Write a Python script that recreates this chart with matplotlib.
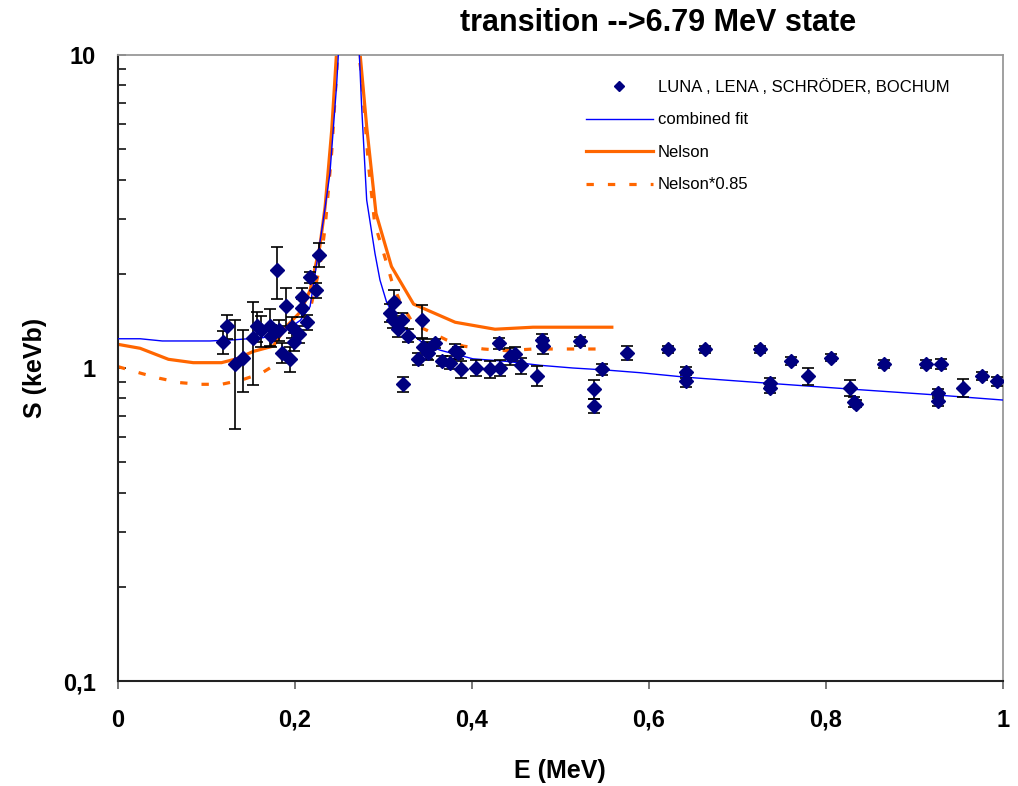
import matplotlib
matplotlib.use("Agg")
import matplotlib.pyplot as plt
from matplotlib.ticker import FixedLocator, FixedFormatter, LogLocator, NullFormatter
from matplotlib.lines import Line2D

plt.rcParams['font.family'] = ['Liberation Sans', 'DejaVu Sans']

# ---- data: measured S-factor points ----
data_E = [0.119, 0.123, 0.132, 0.1416, 0.153, 0.157, 0.162, 0.172, 0.1725, 0.180,
          0.182, 0.1853, 0.1895, 0.1947, 0.1966, 0.1985, 0.2041, 0.208, 0.208, 0.213,
          0.2173, 0.2237, 0.2275,
          0.307, 0.311, 0.312, 0.3167, 0.3205, 0.3224, 0.328, 0.339, 0.343, 0.345,
          0.3495, 0.3506, 0.358, 0.3657, 0.375, 0.381, 0.3846, 0.388, 0.405, 0.420,
          0.431, 0.432, 0.443, 0.449, 0.455, 0.473, 0.479, 0.480, 0.522, 0.5465,
          0.538, 0.538, 0.575,
          0.621, 0.642, 0.642, 0.663, 0.725, 0.737, 0.737, 0.761, 0.780, 0.806,
          0.827, 0.832, 0.834, 0.866, 0.913, 0.930, 0.927, 0.927, 0.955, 0.976, 0.993]
data_S = [1.21, 1.36, 1.03, 1.08, 1.25, 1.36, 1.32, 1.36, 1.27, 2.05,
          1.32, 1.12, 1.58, 1.07, 1.35, 1.21, 1.28, 1.56, 1.68, 1.40,
          1.95, 1.77, 2.30,
          1.50, 1.42, 1.62, 1.33, 1.42, 0.887, 1.27, 1.07, 1.42, 1.17,
          1.14, 1.12, 1.20, 1.055, 1.04, 1.13, 1.12, 0.99, 1.00, 0.99,
          1.20, 1.00, 1.09, 1.11, 1.02, 0.943, 1.23, 1.18, 1.22, 0.99,
          0.855, 0.757, 1.12,
          1.15, 0.969, 0.909, 1.15, 1.15, 0.898, 0.861, 1.055, 0.943, 1.08,
          0.865, 0.78, 0.77, 1.03, 1.03, 1.03, 0.83, 0.785, 0.865, 0.943, 0.909]
data_err = [0.10, 0.12, 0.39, 0.24, 0.37, 0.15, 0.15, 0.18, 0.10, 0.39,
            0.10, 0.08, 0.22, 0.10, 0.10, 0.08, 0.08, 0.10, 0.12, 0.08,
            0.08, 0.10, 0.20,
            0.10, 0.08, 0.15, 0.07, 0.08, 0.05, 0.06, 0.05, 0.17, 0.07,
            0.07, 0.06, 0.04, 0.04, 0.05, 0.06, 0.05, 0.06, 0.06, 0.06,
            0.05, 0.06, 0.07, 0.06, 0.06, 0.07, 0.05, 0.07, 0.04, 0.04,
            0.06, 0.04, 0.06,
            0.03, 0.04, 0.04, 0.03, 0.03, 0.03, 0.03, 0.03, 0.06, 0.03,
            0.05, 0.03, 0.02, 0.03, 0.03, 0.04, 0.03, 0.03, 0.06, 0.03, 0.03]

# ---- combined fit ----
fit_E = [0.0, 0.025, 0.05, 0.08, 0.104, 0.13, 0.164, 0.18, 0.19, 0.206, 0.217,
         0.225, 0.232, 0.2395, 0.247, 0.255, 0.262, 0.268, 0.2753, 0.281, 0.2904,
         0.296, 0.3036, 0.315, 0.326, 0.345, 0.364, 0.401, 0.439, 0.477, 0.514,
         0.552, 0.59, 0.6426, 0.737, 0.831, 0.925, 1.0]
fit_S = [1.24, 1.24, 1.22, 1.22, 1.22, 1.23, 1.25, 1.29, 1.32, 1.42, 1.57,
         2.2, 2.97, 4.2, 8.0, 20.0, 60.0, 20.0, 6.84, 3.44, 2.32,
         1.91, 1.62, 1.42, 1.32, 1.20, 1.14, 1.07, 1.05, 1.02, 1.00,
         0.985, 0.966, 0.934, 0.893, 0.855, 0.82, 0.79]

# ---- Nelson ----
nel_E = [0.0, 0.025, 0.057, 0.085, 0.117, 0.134, 0.153, 0.1755, 0.19, 0.206, 0.217,
         0.228, 0.234, 0.2415, 0.25, 0.26, 0.27, 0.281, 0.2915, 0.309, 0.334,
         0.381, 0.426, 0.469, 0.558]
nel_S = [1.19, 1.156, 1.066, 1.04, 1.04, 1.07, 1.13, 1.175, 1.355, 1.51, 1.77,
         2.44, 3.27, 5.76, 14.0, 40.0, 13.0, 5.9, 3.12, 2.11, 1.60,
         1.40, 1.33, 1.35, 1.35]

# ---- Nelson*0.85 ----
nel85_E = [0.0, 0.027, 0.047, 0.07, 0.093, 0.117, 0.14, 0.162, 0.183, 0.196, 0.217,
           0.228, 0.234, 0.2415, 0.25, 0.26, 0.27, 0.275, 0.2828, 0.290, 0.3036,
           0.309, 0.3186, 0.334, 0.349, 0.371, 0.39, 0.413, 0.439, 0.469, 0.552]
nel85_S = [1.01, 0.96, 0.927, 0.898, 0.887, 0.887, 0.916, 0.962, 1.047, 1.20, 1.53,
           2.1, 2.8, 4.9, 12.0, 34.0, 11.0, 8.74, 4.51, 2.9, 2.16,
           1.91, 1.63, 1.38, 1.32, 1.23, 1.175, 1.15, 1.136, 1.15, 1.15]

x_ticks = [0, 0.2, 0.4, 0.6, 0.8, 1.0]
x_tick_labels = ['0', '0,2', '0,4', '0,6', '0,8', '1']
y_ticks = [0.1, 1, 10]
y_tick_labels = ['0,1', '1', '10']

fig = plt.figure(figsize=(10.18, 7.86), dpi=100)
ax = fig.add_axes([118/1018, 1 - 681/786, (1003-118)/1018, (681-55)/786])

ax.plot(fit_E, fit_S, color='#0000FF', lw=1.0, zorder=3)
ax.plot(nel_E, nel_S, color='#FF6600', lw=2.3, zorder=2)
ax.plot(nel85_E, nel85_S, color='#FF6600', lw=2.3, zorder=2, dashes=(2.3, 4.4))
ax.errorbar(data_E, data_S, yerr=data_err, fmt='D', color='#000080', ms=7,
            mec='#000080', ecolor='black', elinewidth=1.2, capsize=4, capthick=1.2,
            zorder=4)

ax.set_yscale('log')
ax.set_xlim(0, 1)
ax.set_ylim(0.1, 10)

ax.yaxis.set_major_locator(FixedLocator(y_ticks))
ax.yaxis.set_major_formatter(FixedFormatter(y_tick_labels))
ax.yaxis.set_minor_locator(LogLocator(base=10, subs=range(2, 10)))
ax.yaxis.set_minor_formatter(NullFormatter())
ax.xaxis.set_major_locator(FixedLocator(x_ticks))
ax.xaxis.set_major_formatter(FixedFormatter(x_tick_labels))

ax.tick_params(axis='y', which='both', direction='in', length=6, width=1.1,
               color='black', pad=16)
ax.tick_params(axis='x', which='major', direction='out', length=6, width=1.1,
               color='#555555', pad=14)
for lbl in ax.get_xticklabels() + ax.get_yticklabels():
    lbl.set_fontsize(17)
    lbl.set_fontweight('bold')

for s in ['top', 'right']:
    ax.spines[s].set_color('#999999')
    ax.spines[s].set_linewidth(1.3)
for s in ['left', 'bottom']:
    ax.spines[s].set_color('#222222')
    ax.spines[s].set_linewidth(1.5)

fig.text(560/1018, 1 - 771/786, 'E (MeV)', ha='center', va='center',
         fontsize=18, fontweight='bold')
fig.text(35/1018, 1 - 368/786, 'S (keVb)', ha='center', va='center',
         rotation=90, fontsize=18, fontweight='bold')
fig.text(658/1018, 1 - 23/786, 'transition -->6.79 MeV state', ha='center',
         va='center', fontsize=22, fontweight='bold')

handles = [Line2D([], [], marker='D', ls='none', color='#000080', ms=5.5),
           Line2D([], [], color='#0000FF', lw=1.0),
           Line2D([], [], color='#FF6600', lw=2.3),
           Line2D([], [], color='#FF6600', lw=2.3, dashes=(2.3, 4.4))]
labels = ['LUNA , LENA , SCHRÖDER, BOCHUM', 'combined fit', 'Nelson', 'Nelson*0.85']
ax.legend(handles, labels, loc='upper left',
          bbox_to_anchor=(586/1018, 1 - 79/786), bbox_transform=fig.transFigure,
          frameon=False, fontsize=12.0, handlelength=4.0, handletextpad=0.3,
          labelspacing=1.05, borderpad=0, borderaxespad=0)

fig.savefig('out.png', dpi=100)
